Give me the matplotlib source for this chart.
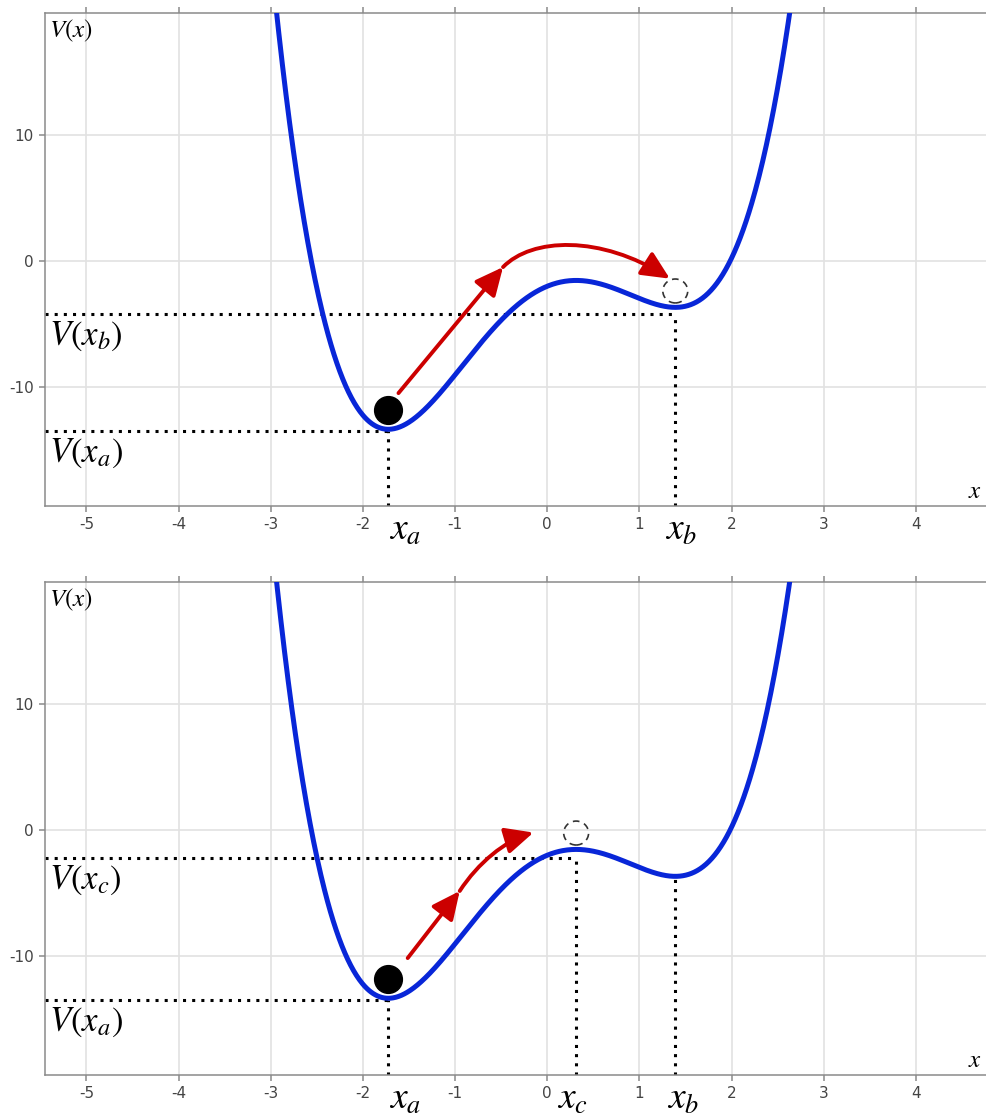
import numpy as np
import matplotlib.pyplot as plt
from matplotlib.patches import Ellipse, FancyArrowPatch
from matplotlib.path import Path
plt.switch_backend('Agg')

plt.rcParams['font.family'] = ['DejaVu Sans']
plt.rcParams['mathtext.fontset'] = 'stix'

# double-well potential V(x) = x^4 + 0.03 x^3 - 5 x^2 + 3 x - 2
V_COEFFS = [1.0, 0.03, -5.0, 3.0, -2.0]
X_TICKS = [-5, -4, -3, -2, -1, 0, 1, 2, 3, 4]
X_TICK_LABELS = ['-5', '-4', '-3', '-2', '-1', '0', '1', '2', '3', '4']
Y_TICKS = [-10, 0, 10]
Y_TICK_LABELS = ['-10', '0', '10']
X_RANGE = (-5.45, 4.76)
Y_RANGE = (-19.44, 19.68)

BLUE = '#0826d8'
RED = '#cc0000'
GRAY = '#8a8a8a'
TEXT = '#444444'
DOTS = dict(color='black', lw=2.2, ls=(0, (1, 2)), zorder=2)


def V(x):
    return np.polyval(V_COEFFS, x)


# stationary points: left well, barrier top, right well
xa, xc, xb = np.sort(np.roots(np.polyder(V_COEFFS)).real)
Va, Vc, Vb = V(xa), V(xc), V(xb)


def setup_axes(ax):
    ax.set_xlim(*X_RANGE)
    ax.set_ylim(*Y_RANGE)
    ax.set_xticks(X_TICKS, X_TICK_LABELS)
    ax.set_yticks(Y_TICKS, Y_TICK_LABELS)
    ax.grid(True, color='#e2e2e2', lw=1.2, zorder=0)
    ax.set_axisbelow(True)
    for side in ['left', 'bottom', 'top']:
        ax.spines[side].set_color(GRAY)
        ax.spines[side].set_linewidth(1.1)
    ax.spines['right'].set_visible(False)
    ax.tick_params(direction='out', length=4, width=1.1, color=GRAY,
                   labelcolor=TEXT, labelsize=11, pad=4, top=True)
    ax.text(0.004, 0.99, r'$V(x)$', transform=ax.transAxes, ha='left', va='top', fontsize=18)
    ax.text(0.988, 0.03, r'$x$', transform=ax.transAxes, ha='center', va='center', fontsize=18)

    xs = np.linspace(-3.3, 3.0, 800)
    ax.plot(xs, V(xs), color=BLUE, lw=3.6, zorder=3)


def level_line(ax, x, y):
    # dotted guides: across to the V axis and down to the x axis
    ax.plot([X_RANGE[0], x], [y, y], **DOTS)
    ax.plot([x, x], [Y_RANGE[0], y], **DOTS)


def level_label(ax, y, text):
    ax.annotate(text, xy=(X_RANGE[0], y), xytext=(4, -5), textcoords='offset pixels',
                ha='left', va='top', fontsize=25)


def axis_label(ax, x, text, dx):
    ax.annotate(text, xy=(x, 0), xycoords=('data', 'axes fraction'), xytext=(dx, -24),
                textcoords='offset pixels', ha='center', va='center', fontsize=27,
                annotation_clip=False)


def ball(ax, x, y):
    ax.plot(x, y + 1.55, 'o', ms=20, color='black', zorder=5)


def ghost(ax, x, y):
    ax.add_patch(Ellipse((x, y + 1.3), 0.27, 1.9, fill=False, ls=(0, (4, 3)),
                         ec='#333333', lw=1.2, zorder=4))


def arrow(ax, verts, codes):
    ax.add_patch(FancyArrowPatch(path=Path(verts, codes),
                                 arrowstyle='-|>,head_length=0.85,head_width=0.4',
                                 mutation_scale=20, color=RED, lw=2.8, zorder=4))


fig = plt.figure(figsize=(9.86, 11.15), dpi=100)
ax1 = fig.add_axes([0.0456, 0.5462, 0.9544, 0.4421])
ax2 = fig.add_axes([0.0456, 0.0359, 0.9544, 0.4421])

# upper panel: ball crosses the barrier into the right well
setup_axes(ax1)
level_line(ax1, xb, Vb - 0.5)
level_line(ax1, xa, Va - 0.15)
level_label(ax1, Vb - 0.5, r'$V(x_b)$')
level_label(ax1, Va - 0.15, r'$V(x_a)$')
axis_label(ax1, xa, r'$x_a$', 17)
axis_label(ax1, xb, r'$x_b$', 6)
ball(ax1, xa, Va)
ghost(ax1, xb, Vb)
arrow(ax1, [(xa + 0.11, Va + 2.87), (-0.48, -0.48)], [Path.MOVETO, Path.LINETO])
arrow(ax1, [(-0.48, -0.48), (-0.17, 1.85), (0.576, 2.1), (1.33, -1.4)],
      [Path.MOVETO, Path.CURVE4, Path.CURVE4, Path.CURVE4])

# lower panel: ball only reaches the barrier top
setup_axes(ax2)
level_line(ax2, xc, Vc - 0.65)
ax2.plot([xb, xb], [Y_RANGE[0], Vb], **DOTS)
level_line(ax2, xa, Va - 0.15)
level_label(ax2, Vc - 0.65, r'$V(x_c)$')
level_label(ax2, Va - 0.15, r'$V(x_a)$')
axis_label(ax2, xa, r'$x_a$', 17)
axis_label(ax2, xc, r'$x_c$', -4)
axis_label(ax2, xb, r'$x_b$', 8)
ball(ax2, xa, Va)
ghost(ax2, xc, Vc)
arrow(ax2, [(xa + 0.21, Va + 3.19), (-0.95, -4.84)], [Path.MOVETO, Path.LINETO])
arrow(ax2, [(-0.95, -4.84), (-0.75, -2.6), (-0.46, -0.87), (-0.15, -0.2)],
      [Path.MOVETO, Path.CURVE4, Path.CURVE4, Path.CURVE4])

fig.savefig('out.png', dpi=100)
plt.close(fig)
